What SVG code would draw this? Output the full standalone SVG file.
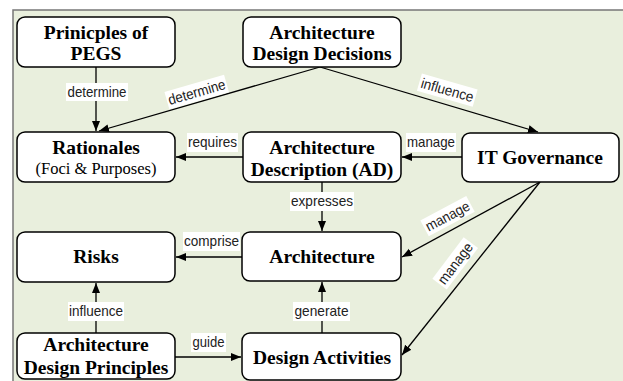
<svg xmlns="http://www.w3.org/2000/svg" width="623" height="381" viewBox="0 0 623 381">
<style>
.node rect{fill:#fff;stroke:#000;stroke-width:1.5}
.t{font-family:"Liberation Serif","Times New Roman","DejaVu Serif",serif;font-weight:bold;font-size:19.5px;text-anchor:middle;fill:#000}
.r{font-family:"Liberation Serif","Times New Roman","DejaVu Serif",serif;font-size:16.5px;text-anchor:middle;fill:#000}
.edge line{stroke:#000;stroke-width:1.3;marker-end:url(#ah)}
.lb{fill:#fff}
.lt{font-family:"Liberation Sans",Arial,sans-serif;font-size:14.5px;text-anchor:middle;fill:#222}
</style>
<defs>
<marker id="ah" viewBox="0 0 10 10" refX="10" refY="5" markerWidth="10" markerHeight="10" markerUnits="userSpaceOnUse" orient="auto">
<path d="M0,1 L10,5 L0,9 Z" fill="#000"/>
</marker>
</defs>
<rect x="0" y="0" width="623" height="381" fill="#fff"/>
<rect x="13" y="10" width="620" height="380" fill="#e9efdd" stroke="#777" stroke-width="1.5"/>

<g class="edge" id="connectors">
<line x1="96" y1="67" x2="96" y2="131"/>
<line x1="320" y1="67" x2="99" y2="131"/>
<line x1="320" y1="67" x2="538" y2="132"/>
<line x1="243" y1="157" x2="176" y2="157"/>
<line x1="462" y1="157" x2="402" y2="157"/>
<line x1="322" y1="182" x2="322" y2="231"/>
<line x1="540" y1="182" x2="402" y2="257"/>
<line x1="540" y1="182" x2="402" y2="355"/>
<line x1="242" y1="257" x2="176" y2="257"/>
<line x1="96" y1="333" x2="96" y2="283"/>
<line x1="175" y1="357" x2="241" y2="357"/>
<line x1="322" y1="333" x2="322" y2="282"/>
<rect class="lb" x="66" y="83" width="62" height="18"/>
<text class="lt" x="97" y="97" textLength="59" lengthAdjust="spacingAndGlyphs">determine</text>
<g transform="translate(197,93) rotate(-16)">
<rect class="lb" x="-31" y="-10" width="62" height="18"/>
<text class="lt" x="0" y="4" textLength="59" lengthAdjust="spacingAndGlyphs">determine</text>
</g>
<g transform="translate(447,91) rotate(16)">
<rect class="lb" x="-29" y="-10" width="58" height="18"/>
<text class="lt" x="0" y="4" textLength="54" lengthAdjust="spacingAndGlyphs">influence</text>
</g>
<rect class="lb" x="187" y="133" width="51" height="19"/>
<text class="lt" x="212.5" y="147" textLength="49" lengthAdjust="spacingAndGlyphs">requires</text>
<rect class="lb" x="406" y="133" width="50" height="19"/>
<text class="lt" x="431" y="147" textLength="48" lengthAdjust="spacingAndGlyphs">manage</text>
<rect class="lb" x="290" y="192" width="64" height="19"/>
<text class="lt" x="322" y="206" textLength="62" lengthAdjust="spacingAndGlyphs">expresses</text>
<g transform="translate(448,217) rotate(-28)">
<rect class="lb" x="-26" y="-10" width="52" height="18"/>
<text class="lt" x="0" y="4" textLength="48" lengthAdjust="spacingAndGlyphs">manage</text>
</g>
<g transform="translate(456,264) rotate(-53)">
<rect class="lb" x="-26" y="-10" width="52" height="18"/>
<text class="lt" x="0" y="4" textLength="48" lengthAdjust="spacingAndGlyphs">manage</text>
</g>
<rect class="lb" x="183" y="232" width="57" height="19"/>
<text class="lt" x="211.5" y="246" textLength="55" lengthAdjust="spacingAndGlyphs">comprise</text>
<rect class="lb" x="68" y="302" width="56" height="19"/>
<text class="lt" x="96" y="316" textLength="54" lengthAdjust="spacingAndGlyphs">influence</text>
<rect class="lb" x="191" y="333" width="35" height="19"/>
<text class="lt" x="208.5" y="347" textLength="32" lengthAdjust="spacingAndGlyphs">guide</text>
<rect class="lb" x="293" y="302" width="57" height="19"/>
<text class="lt" x="321.5" y="316" textLength="54" lengthAdjust="spacingAndGlyphs">generate</text>
</g>

<g class="node" id="pegs">
<rect x="17" y="17" width="158" height="50" rx="8"/>
<text class="t" x="96" y="39">Prinicples of</text>
<text class="t" x="96" y="60">PEGS</text>
</g>
<g class="node" id="add">
<rect x="243" y="17" width="158" height="50" rx="8"/>
<text class="t" x="322" y="39">Architecture</text>
<text class="t" x="322" y="60">Design Decisions</text>
</g>
<g class="node" id="rationales">
<rect x="17" y="132" width="158" height="50" rx="8"/>
<text class="t" x="96" y="154">Rationales</text>
<text class="r" x="96" y="174">(Foci &amp; Purposes)</text>
</g>
<g class="node" id="ad">
<rect x="243" y="132" width="158" height="50" rx="8"/>
<text class="t" x="322" y="154">Architecture</text>
<text class="t" x="322" y="176">Description (AD)</text>
</g>
<g class="node" id="itgov">
<rect x="462" y="133" width="157" height="49" rx="8"/>
<text class="t" x="540" y="164">IT Governance</text>
</g>
<g class="node" id="risks">
<rect x="17" y="232" width="158" height="50" rx="8"/>
<text class="t" x="96" y="263">Risks</text>
</g>
<g class="node" id="architecture">
<rect x="242" y="232" width="159" height="49" rx="8"/>
<text class="t" x="322" y="263">Architecture</text>
</g>
<g class="node" id="adp">
<rect x="17" y="333" width="158" height="46" rx="8"/>
<text class="t" x="96" y="351">Architecture</text>
<text class="t" x="96" y="374">Design Principles</text>
</g>
<g class="node" id="da">
<rect x="242" y="333" width="159" height="47" rx="8"/>
<text class="t" x="322" y="364">Design Activities</text>
</g>
</svg>
